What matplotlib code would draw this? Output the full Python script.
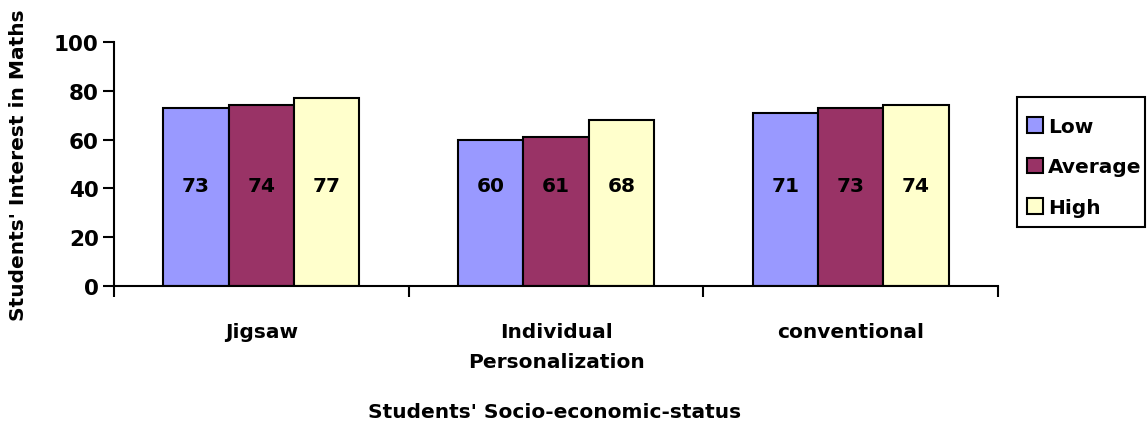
import matplotlib
matplotlib.use("Agg")
import matplotlib.pyplot as plt
from matplotlib.patches import Rectangle
import numpy as np

plt.rcParams['font.family'] = ['DejaVu Sans']
plt.rcParams['font.weight'] = 'bold'

categories = ["Jigsaw", "Individual\nPersonalization", "conventional"]
series_names = ["Low", "Average", "High"]
low = [73, 60, 71]
average = [74, 61, 73]
high = [77, 68, 74]
colors = ["#9999FF", "#993366", "#FFFFCC"]
yticks = [0, 20, 40, 60, 80, 100]

W, H = 1147, 427
fig = plt.figure(figsize=(W/100, H/100), dpi=100)
ax = fig.add_axes([114/W, 1-287/H, (998-114)/W, (287-43)/H])

x = np.arange(len(categories)) + 0.5
bw = 0.222
label_y = 41
handles = []
for i, (vals, name, c) in enumerate(zip([low, average, high], series_names, colors)):
    pos = x + (i - 1) * bw
    b = ax.bar(pos, vals, width=bw, color=c, edgecolor="black", linewidth=1.5, label=name)
    handles.append(b)
    for p, v in zip(pos, vals):
        ax.text(p, label_y, str(v), ha="center", va="center", fontsize=14.5, fontweight="bold")

ax.set_xlim(0, 3)
ax.set_ylim(0, 100)
ax.set_yticks(yticks)
ax.set_xticks([0, 1, 2, 3])
ax.set_xticklabels([])
ax.set_xticks(x, minor=True)
ax.set_xticklabels(categories, minor=True, fontsize=14.5, fontweight="bold", linespacing=1.75)
ax.tick_params(axis="x", which="minor", length=0, pad=26)
ax.tick_params(axis="x", which="major", length=8, width=1.5, direction="out")
ax.tick_params(axis="y", length=8, width=1.5, direction="out", labelsize=15.5, pad=3)
for lab in ax.get_yticklabels():
    lab.set_fontweight("bold")
for s in ["top", "right"]:
    ax.spines[s].set_visible(False)
for s in ["left", "bottom"]:
    ax.spines[s].set_linewidth(1.5)

ax.set_ylabel("Students' Interest in Maths", fontsize=14.5, fontweight="bold")
ax.yaxis.set_label_coords(-(114-28)/884, 0.5)
fig.text(555/W, 1-413/H, "Students' Socio-economic-status", ha="center", va="center",
         fontsize=14.5, fontweight="bold")

# legend box
fig.patches.append(Rectangle((1017/W, 1-228/H), 128/W, 130/H, transform=fig.transFigure,
                             facecolor="white", edgecolor="black", linewidth=1.5, zorder=1))
leg = fig.legend(handles, series_names, loc="center left", bbox_to_anchor=(1023/W, 1-168/H),
                 bbox_transform=fig.transFigure,
                 frameon=False, fontsize=14.5,
                 handlelength=0.8, handleheight=0.8, handletextpad=0.25, labelspacing=1.07,
                 borderpad=0.2, borderaxespad=0)
leg.set_zorder(5)
for t in leg.get_texts():
    t.set_fontweight("bold")
for h in leg.legend_handles:
    h.set_linewidth(1.5)

fig.savefig("out.png", dpi=100)
